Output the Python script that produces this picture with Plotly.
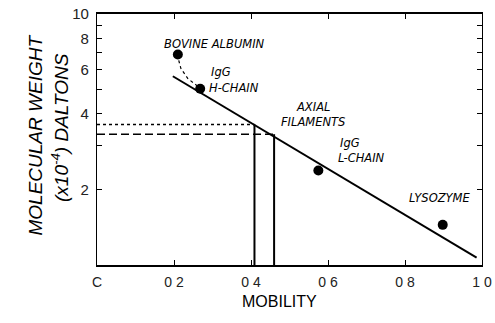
import math
import plotly.graph_objects as go

# Data
protein_names = ["BOVINE ALBUMIN", "IgG H-CHAIN", "IgG L-CHAIN", "LYSOZYME"]
protein_mobility = [0.21, 0.268, 0.575, 0.898]
protein_mw = [6.9, 5.04, 2.38, 1.445]

fit_mobility = [0.197, 0.986]
fit_mw = [5.65, 1.07]

curve_mobility = [0.21, 0.211, 0.218, 0.236, 0.262, 0.268]
curve_mw = [6.9, 6.65, 6.06, 5.53, 5.15, 5.04]

filament_mobility = [0.409, 0.46]
filament_mw = [3.63, 3.32]

x_tickvals = [0, 0.2, 0.4, 0.6, 0.8, 1.0]
x_ticktext = ["C", "0 2", "0 4", "0 6", "0 8", "1 0"]
y_tickvals = [2, 4, 6, 8, 10]
y_ticktext = ["2", "4", "6", "8", "10"]
y_minorvals = [3, 5, 7, 9]

fig = go.Figure()

# dotted curve from albumin
fig.add_trace(go.Scatter(x=curve_mobility, y=curve_mw, mode="lines",
                         line=dict(color="black", width=1.2, dash="dot"),
                         showlegend=False, hoverinfo="skip"))
# regression line
fig.add_trace(go.Scatter(x=fit_mobility, y=fit_mw, mode="lines",
                         line=dict(color="black", width=2),
                         showlegend=False, hoverinfo="skip"))
# axial filament lines
dashes = ["3px,3px", "8px,4px"]
for xm, ym, d in zip(filament_mobility, filament_mw, dashes):
    fig.add_trace(go.Scatter(x=[0, xm], y=[ym, ym], mode="lines",
                             line=dict(color="black", width=1.5, dash=d),
                             showlegend=False, hoverinfo="skip"))
    fig.add_trace(go.Scatter(x=[xm, xm], y=[ym, 1], mode="lines",
                             line=dict(color="black", width=2),
                             showlegend=False, hoverinfo="skip"))
# protein points
fig.add_trace(go.Scatter(x=protein_mobility, y=protein_mw, mode="markers",
                         marker=dict(color="black", size=10),
                         showlegend=False))

afont = dict(family="DejaVu Sans", size=11.5, color="black")
ann = [
    dict(x=0.305, y=7.6, text="<i>BOVINE ALBUMIN</i>", xanchor="center"),
    dict(x=0.29, y=5.85, text="<i>IgG</i>", xanchor="left"),
    dict(x=0.285, y=5.05, text="<i>H-CHAIN</i>", xanchor="left"),
    dict(x=0.56, y=4.25, text="<i>AXIAL</i>", xanchor="center"),
    dict(x=0.56, y=3.7, text="<i>FILAMENTS</i>", xanchor="center"),
    dict(x=0.625, y=3.05, text="<i>IgG</i>", xanchor="left"),
    dict(x=0.62, y=2.68, text="<i>L-CHAIN</i>", xanchor="left"),
    dict(x=0.89, y=1.85, text="<i>LYSOZYME</i>", xanchor="center"),
]
for a in ann:
    fig.add_annotation(x=a["x"], y=math.log10(a["y"]), yref="y", xref="x", text=a["text"],
                       xanchor=a["xanchor"], yanchor="middle", showarrow=False,
                       font=afont)

W, H = 495, 323
L, R, T, B = 97, 13, 14, 58
pw, ph = W - L - R, H - T - B

def px(xp):
    return (xp - L) / pw

def py(yp):
    return 1 - (yp - T) / ph

tfont = dict(family="Liberation Sans", size=19, color="black")
fig.add_annotation(x=px(22), y=py(135), xref="paper", yref="paper", text="<i>MOLECULAR WEIGHT</i>",
                   textangle=-90, showarrow=False, font=tfont)
fig.add_annotation(x=px(46), y=py(128), xref="paper", yref="paper", text="<i>(x10<sup>-4</sup>) DALTONS</i>",
                   textangle=-90, showarrow=False, font=tfont)
fig.add_annotation(x=px(279), y=py(312), xref="paper", yref="paper", text="MOBILITY",
                   showarrow=False, font=dict(family="Liberation Sans", size=16, color="black"))

fig.update_layout(
    width=W, height=H,
    margin=dict(l=L, r=R, t=T, b=B, autoexpand=False),
    plot_bgcolor="white", paper_bgcolor="white",
    font=dict(family="Liberation Sans", color="#222"),
    xaxis=dict(range=[0, 1.0], tickvals=x_tickvals, ticktext=x_ticktext,
               ticks="inside", ticklen=5, tickcolor="black", showgrid=False,
               zeroline=False, showline=True, linecolor="black", linewidth=1.5,
               mirror="ticks", tickfont=dict(size=14, color="#222"),
               ticklabelstandoff=3, automargin=False),
    yaxis=dict(type="log", range=[0, 1], tickvals=y_tickvals, ticktext=y_ticktext,
               ticks="inside", ticklen=5, tickcolor="black", showgrid=False,
               zeroline=False, showline=True, linecolor="black", linewidth=1.2,
               mirror="ticks", tickfont=dict(size=15, color="#222"),
               minor=dict(tickvals=y_minorvals, ticks="inside", ticklen=5,
                          tickcolor="black", showgrid=False),
               ticklabelstandoff=4, automargin=False),
)

fig.write_html("out.html", config={"displayModeBar": False},
               post_script="document.body.style.margin='0';")
